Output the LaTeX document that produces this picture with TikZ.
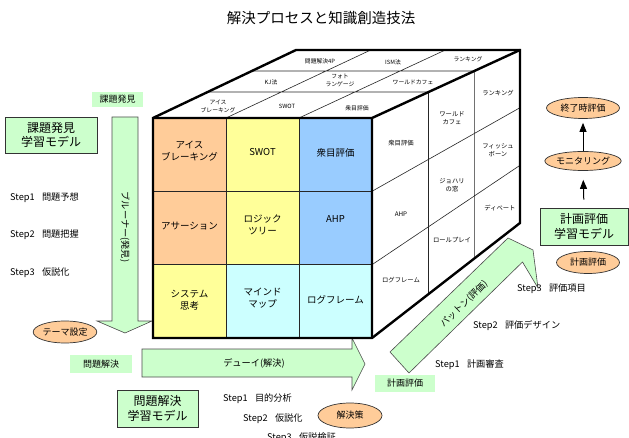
\documentclass[tikz,border=0pt]{standalone}
\usepackage{fontspec}
\setmainfont{Noto Sans CJK JP}
\usetikzlibrary{shapes.geometric,arrows.meta}
\definecolor{cOrange}{HTML}{FFCC99}
\definecolor{cYellow}{HTML}{FFFF99}
\definecolor{cBlue}{HTML}{99CCFF}
\definecolor{cCyan}{HTML}{CCFFFF}
\definecolor{cGreen}{HTML}{CCFFCC}
\newcommand{\fcell}{\fontsize{9.5}{12}\selectfont}
\newcommand{\ftop}{\fontsize{5.8}{7.2}\selectfont}
\newcommand{\fside}{\fontsize{6.3}{8.5}\selectfont}
\newcommand{\fstep}{\fontsize{9.2}{11}\selectfont}
\newcommand{\fmodel}{\fontsize{12}{14.5}\selectfont}
\newcommand{\flabel}{\fontsize{9}{10.5}\selectfont}
\newcommand{\farr}{\fontsize{9.2}{11}\selectfont}
\newcommand{\foval}{\fontsize{9}{10.5}\selectfont}
\newcommand{\fttl}{\fontsize{14.5}{16}\selectfont}
\tikzset{
  thickln/.style={line width=2.4pt, line join=miter},
  thinln/.style={line width=0.6pt, black!85},
  cell/.style={minimum width=73pt, minimum height=73.33pt, inner sep=0pt, align=center, font=\fcell},
  celltxt/.style={inner sep=0pt, align=center, font=\fcell},
  toplbl/.style={inner sep=0pt, align=center, font=\ftop},
  sidelbl/.style={inner sep=0pt, align=center, font=\fside},
  garrow/.style={fill=cGreen, draw=black!70, line width=0.6pt, line join=miter},
  glabel/.style={fill=cGreen, inner sep=0pt, minimum height=15pt, font=\flabel},
  modelbox/.style={fill=cGreen, draw=black!80, line width=0.8pt, align=center, font=\fmodel, inner sep=0pt},
  oval/.style={ellipse, fill=cOrange, draw=black!80, line width=0.7pt, inner sep=0pt, font=\foval},
  steptxt/.style={anchor=west, inner sep=0pt, font=\fstep},
  upar/.style={-{Triangle[length=9pt,width=7pt]}, line width=1pt},
}
\begin{document}
\begin{tikzpicture}[x=1pt,y=-1pt]
\useasboundingbox[fill=white] (0,0) rectangle (629,438);

% title
\node[inner sep=0pt, font=\fttl] (title) at (321,18) {解決プロセスと知識創造技法};

% green arrows (behind cube)
\draw[garrow] (112,117) -- (138,117) -- (138,321) -- (152,321) -- (125,333) -- (97,321) -- (112,321) -- cycle;
\node[rotate=-90, inner sep=0pt, font=\farr] (bruner) at (125,227) {ブルーナー(発見)};
\draw[garrow] (142,349) -- (352,349) -- (352,338) -- (365,364) -- (352,390) -- (352,377) -- (142,377) -- cycle;
\node[inner sep=0pt, font=\farr] (dewey) at (254,363) {デューイ(解決)};
\draw[garrow] (390,352) -- (508,238) -- (533,250) -- (538,288) -- (522.5,262) -- (409,373) -- cycle;
\node[rotate=44, inner sep=0pt, font=\farr] (patton) at (464,304) {パットン(評価)};

% cube coordinates
\coordinate (FTL) at (153,118);
\coordinate (FTR) at (372,118);
\coordinate (FBL) at (153,338);
\coordinate (FBR) at (372,338);
\coordinate (BTL) at (296,50);
\coordinate (BTR) at (520,50);
\coordinate (BBR) at (520,223);
\fill[white] (FTL) -- (BTL) -- (BTR) -- (BBR) -- (FBR) -- (FTR) -- cycle;

% front cells
\node[cell, fill=cOrange] (c11) at (189.5,154.7) {};
\node[cell, fill=cYellow] (c12) at (262.5,154.7) {};
\node[cell, fill=cBlue]   (c13) at (335.5,154.7) {};
\node[cell, fill=cOrange] (c21) at (189.5,228) {};
\node[cell, fill=cYellow] (c22) at (262.5,228) {};
\node[cell, fill=cBlue]   (c23) at (335.5,228) {};
\node[cell, fill=cYellow] (c31) at (189.5,301.3) {};
\node[cell, fill=cCyan]   (c32) at (262.5,301.3) {};
\node[cell, fill=cCyan]   (c33) at (335.5,301.3) {};
\node[celltxt] (t11) at (189.5,151.5) {アイス\\ブレーキング};
\node[celltxt] (t12) at (262.5,152.5) {SWOT};
\node[celltxt] (t13) at (335.5,152.5) {衆目評価};
\node[celltxt] (t21) at (189.5,226) {アサーション};
\node[celltxt] (t22) at (262.5,225) {ロジック\\ツリー};
\node[celltxt] (t23) at (335.5,219) {AHP};
\node[celltxt] (t31) at (189.5,300) {システム\\思考};
\node[celltxt] (t32) at (262.5,298.5) {マインド\\マップ};
\node[celltxt] (t33) at (335.5,300) {ログフレーム};

% thin grid lines
\draw[thinln] (226,118) -- (226,338) (299,118) -- (299,338)
  (153,191.3) -- (372,191.3) (153,264.7) -- (372,264.7);
\draw[thinln] (207.6,92) -- (428.5,92) (251.8,71) -- (474.3,71)
  (226,118) -- (370.7,50) (299,118) -- (445.3,50);
\draw[thinln] (372,191.3) -- (520,107.7) (372,264.7) -- (520,165.3)
  (428.5,92) -- (428.5,294.1) (474.3,71) -- (474.3,258.5);

% thick outline
\draw[thickln] (FBL) -- (FTL) -- (BTL) -- (BTR) -- (BBR) -- (FBR) -- cycle;
\draw[thickln] (FTL) -- (FTR) -- (FBR) (FTR) -- (BTR);

% top face labels
\node[toplbl] (p1) at (320,61) {問題解決4P};
\node[toplbl] (p2) at (393,62) {ISM法};
\node[toplbl] (p3) at (468,59) {ランキング};
\node[toplbl] (p4) at (271,82) {KJ法};
\node[toplbl] (p5) at (340,80.5) {フォト\\ランゲージ};
\node[toplbl] (p6) at (413,82) {ワールドカフェ};
\node[toplbl] (p7) at (218,106.5) {アイス\\ブレーキング};
\node[toplbl] (p8) at (287,106) {SWOT};
\node[toplbl] (p9) at (357,108) {衆目評価};

% right face labels
\node[sidelbl] (r1) at (401,143) {衆目評価};
\node[sidelbl] (r2) at (401,214) {AHP};
\node[sidelbl] (r3) at (401,280) {ログフレーム};
\node[sidelbl] (r4) at (452,118) {ワールド\\カフェ};
\node[sidelbl] (r5) at (452,185) {ジョハリ\\の窓};
\node[sidelbl] (r6) at (452,240) {ロールプレイ};
\node[sidelbl] (r7) at (498,93) {ランキング};
\node[sidelbl] (r8) at (498,150) {フィッシュ\\ボーン};
\node[sidelbl] (r9) at (500,208) {ディベート};

% small green labels
\node[glabel, minimum width=51pt] (lk) at (117.5,99.5) {課題発見};
\node[glabel, minimum width=62pt, minimum height=18pt] (lm) at (101,364) {問題解決};
\node[glabel, minimum width=60pt, minimum height=17pt] (lh) at (405,383.5) {計画評価};

% model boxes
\node[modelbox, minimum width=92pt, minimum height=36pt] (mk) at (51,135) {課題発見\\学習モデル};
\node[modelbox, minimum width=81pt, minimum height=37pt] (mm) at (157.5,408.5) {問題解決\\学習モデル};
\node[modelbox, minimum width=88pt, minimum height=37pt] (mh) at (584,226.5) {計画評価\\学習モデル};

% ovals
\node[oval, minimum width=52pt, minimum height=22pt] (o1) at (65,332) {テーマ設定};
\node[oval, minimum width=64pt, minimum height=25pt] (o2) at (350,415.5) {解決策};
\node[oval, minimum width=63pt, minimum height=22pt] (o3) at (588,262.5) {計画評価};
\node[oval, minimum width=73pt, minimum height=21pt] (o4) at (583,108) {終了時評価};
\node[oval, minimum width=73pt, minimum height=19pt] (o5) at (583,161) {モニタリング};
\draw[upar, shorten <=8pt, shorten >=9pt] (mh.north) -- (o5.south);
\draw[upar, shorten >=4pt] (o5.north) -- (o4.south);

% steps
\node[steptxt] (s1) at (10,198) {Step1\hspace{0.8em}問題予想};
\node[steptxt] (s2) at (10,235) {Step2\hspace{0.8em}問題把握};
\node[steptxt] (s3) at (10,273) {Step3\hspace{0.8em}仮説化};
\node[steptxt] (s4) at (223,399) {Step1\hspace{0.8em}目的分析};
\node[steptxt] (s5) at (243,419) {Step2\hspace{0.8em}仮説化};
\node[steptxt] (s6) at (267,438) {Step3\hspace{0.8em}仮説検証};
\node[steptxt] (s7) at (435,365) {Step1\hspace{0.8em}計画審査};
\node[steptxt] (s8) at (473,326) {Step2\hspace{0.8em}評価デザイン};
\node[steptxt] (s9) at (517,289) {Step3\hspace{0.8em}評価項目};
\end{tikzpicture}
\end{document}
